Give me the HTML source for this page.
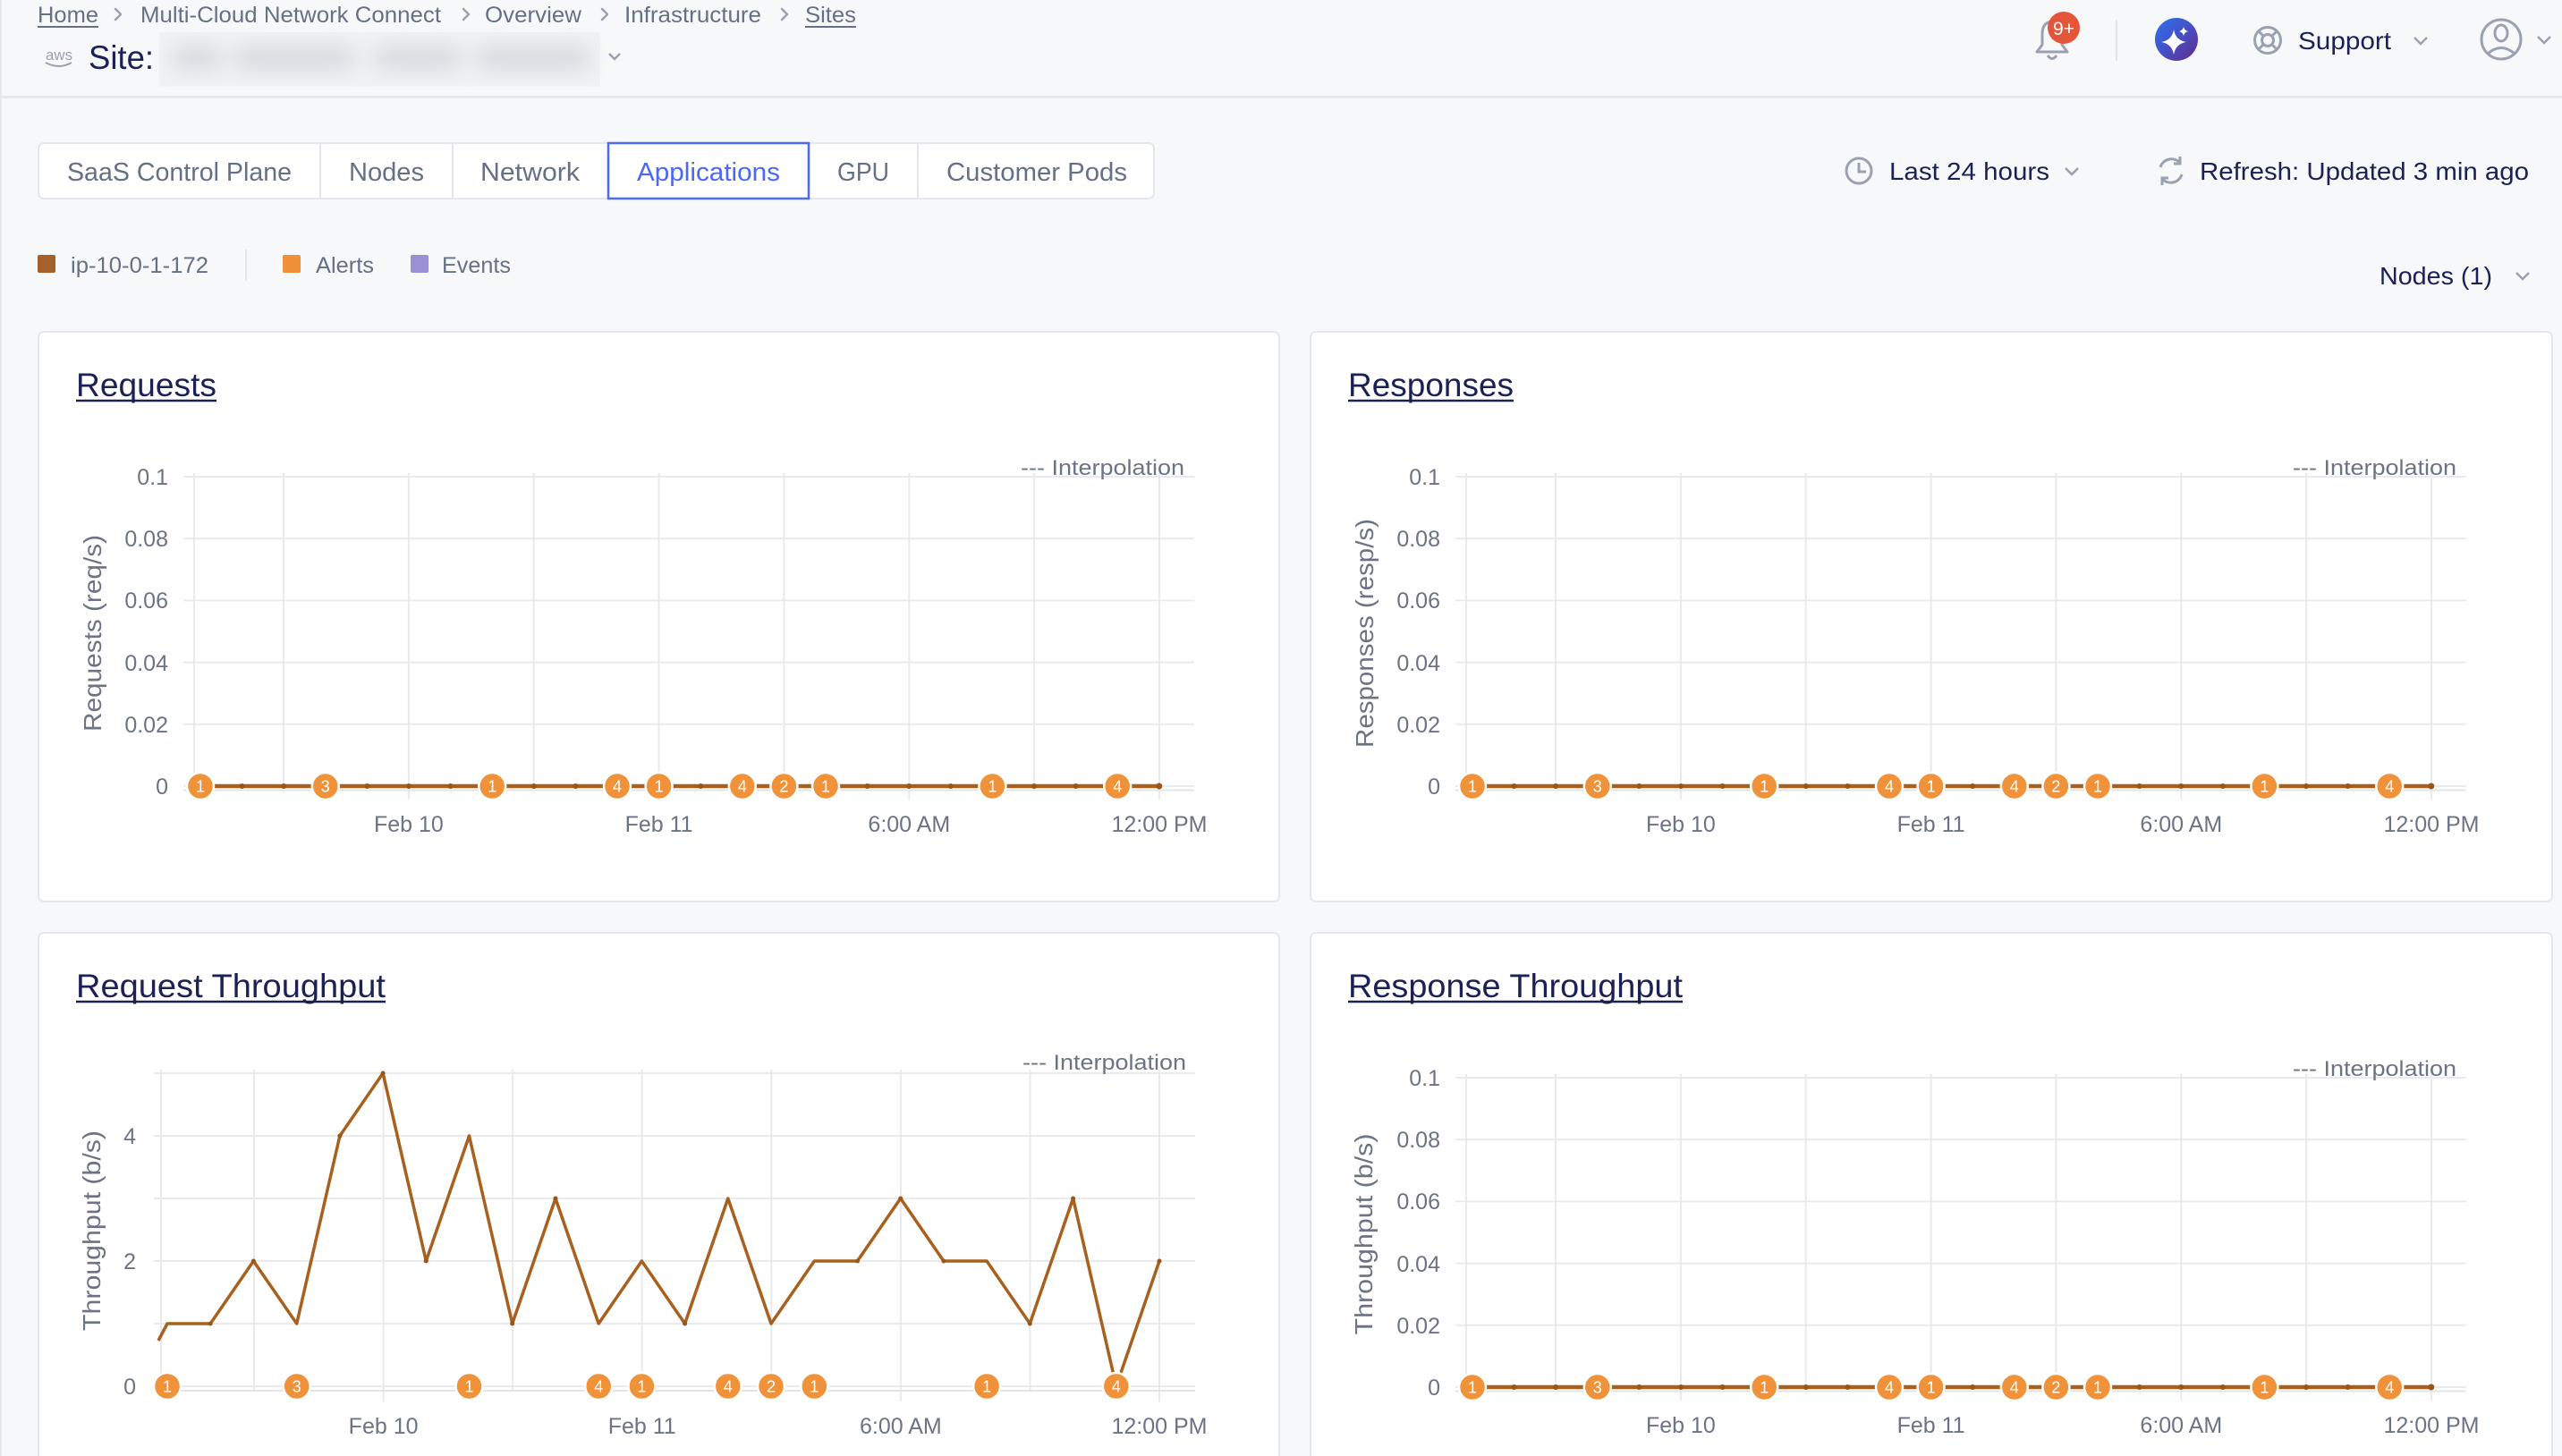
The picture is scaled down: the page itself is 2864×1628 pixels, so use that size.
<!DOCTYPE html>
<html><head><meta charset="utf-8"><style>
html,body{margin:0;padding:0;background:#f7f8fa;}
svg{display:block;font-family:"Liberation Sans",Arial,sans-serif;}
</style></head><body>
<svg width="2864" height="1628" viewBox="0 0 2864 1628" xmlns="http://www.w3.org/2000/svg">
<defs>
<linearGradient id="ai" x1="0" y1="0" x2="1" y2="1"><stop offset="0" stop-color="#2a74f0"/><stop offset="0.55" stop-color="#4a4bc0"/><stop offset="1" stop-color="#5e2a86"/></linearGradient>
<filter id="bl" x="-20%" y="-100%" width="140%" height="300%"><feGaussianBlur stdDeviation="12"/></filter>
</defs>
<rect width="2864" height="1628" fill="#f7f8fa"/>
<rect x="0" y="0" width="2" height="1628" fill="#e6e8ee"/>
<!-- breadcrumb -->
<g font-size="25" fill="#667085">
<text x="42" y="25" textLength="68" lengthAdjust="spacingAndGlyphs">Home</text>
<text x="157" y="25" textLength="336" lengthAdjust="spacingAndGlyphs">Multi-Cloud Network Connect</text>
<text x="542" y="25" textLength="108" lengthAdjust="spacingAndGlyphs">Overview</text>
<text x="698" y="25" textLength="153" lengthAdjust="spacingAndGlyphs">Infrastructure</text>
<text x="900" y="25" textLength="57" lengthAdjust="spacingAndGlyphs">Sites</text>
</g>
<g stroke="#667085" stroke-width="2"><line x1="42" y1="30" x2="110" y2="30"/><line x1="900" y1="30" x2="957" y2="30"/></g>
<g stroke="#9aa1b1" stroke-width="2.5" fill="none" stroke-linecap="round" stroke-linejoin="round">
<polyline points="129,10 135,16 129,22"/><polyline points="518,10 524,16 518,22"/><polyline points="673,10 679,16 673,22"/><polyline points="874,10 880,16 874,22"/>
</g>
<!-- site -->
<text x="51" y="67" font-size="17" fill="#9aa1b1" textLength="30" lengthAdjust="spacingAndGlyphs">aws</text>
<path d="M51,70 Q66,78 80,70" stroke="#9aa1b1" stroke-width="2" fill="none"/>
<text x="99" y="77" font-size="37" fill="#1b2155" textLength="73" lengthAdjust="spacingAndGlyphs">Site:</text>
<rect x="178" y="36" width="493" height="61" fill="#f1f2f5"/>
<g filter="url(#bl)" fill="#d6d9df"><rect x="192" y="52" width="56" height="26" rx="10"/><rect x="262" y="52" width="134" height="26" rx="10"/><rect x="418" y="52" width="98" height="26" rx="10"/><rect x="532" y="52" width="128" height="26" rx="10"/></g>
<polyline points="681,60 687,66 693,60" stroke="#9aa1b1" stroke-width="2.5" fill="none"/>
<!-- top right -->
<path d="M2277,58 L2283,50 L2283,38 Q2283,25 2294,24 Q2305,25 2305,38 L2305,50 L2311,58 Z" fill="none" stroke="#9aa1b1" stroke-width="3" stroke-linejoin="round"/>
<path d="M2289,62 Q2294,69 2299,62" fill="none" stroke="#9aa1b1" stroke-width="3"/>
<circle cx="2307" cy="31" r="18" fill="#e4553a"/>
<text x="2307" y="39" font-size="21" fill="#fff" text-anchor="middle">9+</text>
<line x1="2366" y1="22" x2="2366" y2="68" stroke="#e1e4ea" stroke-width="2"/>
<circle cx="2433" cy="44" r="24" fill="url(#ai)"/>
<path d="M2430,33 Q2432,45 2444,47 Q2432,49 2430,61 Q2428,49 2416,47 Q2428,45 2430,33 Z" fill="#fff"/>
<path d="M2441,30 Q2442,34 2446,35 Q2442,36 2441,40 Q2440,36 2436,35 Q2440,34 2441,30 Z" fill="#fff"/>
<g stroke="#9aa1b1" stroke-width="3" fill="none"><circle cx="2535" cy="45" r="14.5"/><circle cx="2535" cy="45" r="6.5"/>
<line x1="2530" y1="40" x2="2525" y2="35"/><line x1="2540" y1="40" x2="2545" y2="35"/><line x1="2530" y1="50" x2="2525" y2="55"/><line x1="2540" y1="50" x2="2545" y2="55"/></g>
<text x="2569" y="55" font-size="28" fill="#1b2155" textLength="104" lengthAdjust="spacingAndGlyphs">Support</text>
<polyline points="2699,42 2706,49 2713,42" stroke="#9aa1b1" stroke-width="2.5" fill="none"/>
<g stroke="#9aa1b1" stroke-width="3" fill="none"><circle cx="2796" cy="44" r="22"/><ellipse cx="2796" cy="37" rx="7" ry="9"/><path d="M2781,60 Q2796,47 2811,60"/></g>
<polyline points="2837,41 2844,48 2851,41" stroke="#9aa1b1" stroke-width="2.5" fill="none"/>
<rect x="0" y="107" width="2864" height="3" fill="#e6e8ee"/>
<!-- tabs -->
<rect x="43" y="160" width="1247" height="62" rx="6" fill="#fff" stroke="#e3e6ed" stroke-width="2"/>
<g stroke="#e3e6ed" stroke-width="2"><line x1="358" y1="160" x2="358" y2="222"/><line x1="506" y1="160" x2="506" y2="222"/><line x1="1026" y1="160" x2="1026" y2="222"/></g>
<rect x="680" y="160" width="224" height="62" fill="#fff" stroke="#4d6bf5" stroke-width="2.5"/>
<g font-size="28.5" fill="#667085">
<text x="75" y="202" textLength="251" lengthAdjust="spacingAndGlyphs">SaaS Control Plane</text>
<text x="390" y="202" textLength="84" lengthAdjust="spacingAndGlyphs">Nodes</text>
<text x="537" y="202" textLength="111" lengthAdjust="spacingAndGlyphs">Network</text>
<text x="712" y="202" textLength="160" lengthAdjust="spacingAndGlyphs" fill="#4a67f5">Applications</text>
<text x="936" y="202" textLength="58" lengthAdjust="spacingAndGlyphs">GPU</text>
<text x="1058" y="202" textLength="202" lengthAdjust="spacingAndGlyphs">Customer Pods</text>
</g>
<!-- time / refresh -->
<g stroke="#9aa1b1" stroke-width="3" fill="none"><circle cx="2078" cy="191" r="14"/><polyline points="2078,182 2078,192 2086,192"/></g>
<text x="2112" y="201" font-size="28" fill="#1b2155" textLength="179" lengthAdjust="spacingAndGlyphs">Last 24 hours</text>
<polyline points="2309,188 2316,195 2323,188" stroke="#9aa1b1" stroke-width="2.5" fill="none"/>
<g stroke="#9aa1b1" stroke-width="3" fill="none"><path d="M2415,187 A13,13 0 0 1 2437,182"/><polyline points="2437,175 2437,183 2430,183"/><path d="M2439,195 A13,13 0 0 1 2417,200"/><polyline points="2417,207 2417,199 2424,199"/></g>
<text x="2459" y="201" font-size="28" fill="#1b2155" textLength="368" lengthAdjust="spacingAndGlyphs">Refresh: Updated 3 min ago</text>
<!-- legend -->
<rect x="42" y="285" width="20" height="20" rx="2" fill="#a5612a"/>
<text x="79" y="305" font-size="25" fill="#667085" textLength="154" lengthAdjust="spacingAndGlyphs">ip-10-0-1-172</text>
<line x1="275" y1="279" x2="275" y2="314" stroke="#e3e6ed" stroke-width="2"/>
<rect x="316" y="285" width="20" height="20" rx="2" fill="#f0913a"/>
<text x="353" y="305" font-size="25" fill="#667085" textLength="65" lengthAdjust="spacingAndGlyphs">Alerts</text>
<rect x="459" y="285" width="20" height="20" rx="2" fill="#9b8fd6"/>
<text x="494" y="305" font-size="25" fill="#667085" textLength="77" lengthAdjust="spacingAndGlyphs">Events</text>
<text x="2660" y="318" font-size="28" fill="#1b2155" textLength="126" lengthAdjust="spacingAndGlyphs">Nodes (1)</text>
<polyline points="2813,305 2820,312 2827,305" stroke="#9aa1b1" stroke-width="2.5" fill="none"/>
<!-- panels -->
<rect x="43" y="371" width="1387" height="637" rx="6" fill="#fff" stroke="#e4e7ee" stroke-width="2"/>
<rect x="1465" y="371" width="1388" height="637" rx="6" fill="#fff" stroke="#e4e7ee" stroke-width="2"/>
<rect x="43" y="1043" width="1387" height="640" rx="6" fill="#fff" stroke="#e4e7ee" stroke-width="2"/>
<rect x="1465" y="1043" width="1388" height="640" rx="6" fill="#fff" stroke="#e4e7ee" stroke-width="2"/>

<defs>
<g id="grid">
<g stroke="#e9eaef" stroke-width="2">
<line x1="162" y1="162" x2="1292" y2="162"/><line x1="162" y1="231.2" x2="1292" y2="231.2"/><line x1="162" y1="300.4" x2="1292" y2="300.4"/><line x1="162" y1="369.6" x2="1292" y2="369.6"/><line x1="162" y1="438.8" x2="1292" y2="438.8"/><line x1="162" y1="508" x2="1292" y2="508"/>
<line x1="174" y1="158" x2="174" y2="512"/><line x1="274" y1="158" x2="274" y2="512"/><line x1="413.9" y1="158" x2="413.9" y2="523"/><line x1="553.7" y1="158" x2="553.7" y2="512"/><line x1="693.6" y1="158" x2="693.6" y2="523"/><line x1="833.4" y1="158" x2="833.4" y2="512"/><line x1="973.3" y1="158" x2="973.3" y2="523"/><line x1="1113.1" y1="158" x2="1113.1" y2="512"/><line x1="1253" y1="158" x2="1253" y2="523"/>
</g>
<line x1="162" y1="512.5" x2="1292" y2="512.5" stroke="#e2e4ea" stroke-width="2"/>
<g font-size="25" fill="#6b7385" text-anchor="end">
<text x="145" y="171">0.1</text><text x="145" y="240">0.08</text><text x="145" y="309">0.06</text><text x="145" y="379">0.04</text><text x="145" y="448">0.02</text><text x="145" y="517">0</text>
</g>
<g font-size="25" fill="#6b7385" text-anchor="middle">
<text x="413.9" y="559">Feb 10</text><text x="693.6" y="559">Feb 11</text><text x="973.3" y="559">6:00 AM</text><text x="1253" y="559">12:00 PM</text>
</g>
<text x="1098" y="160" font-size="24" fill="#6b7385" textLength="183" lengthAdjust="spacingAndGlyphs">--- Interpolation</text>
<line x1="181" y1="508" x2="1253" y2="508" stroke="#a8601f" stroke-width="4.5"/>
<g fill="#9a5518">
<circle cx="227.6" cy="508" r="3"/><circle cx="274.2" cy="508" r="3"/><circle cx="367.4" cy="508" r="3"/><circle cx="414" cy="508" r="3"/><circle cx="460.6" cy="508" r="3"/><circle cx="553.8" cy="508" r="3"/><circle cx="600.4" cy="508" r="3"/><circle cx="740.2" cy="508" r="3"/><circle cx="926.6" cy="508" r="3"/><circle cx="973.2" cy="508" r="3"/><circle cx="1019.8" cy="508" r="3"/><circle cx="1113" cy="508" r="3"/><circle cx="1159.6" cy="508" r="3"/><circle cx="1252.8" cy="508" r="3.5"/>
</g>
<g fill="#f0923a" stroke="#fff" stroke-width="2.5">
<circle cx="181" cy="508" r="15"/><circle cx="320.8" cy="508" r="15"/><circle cx="507.2" cy="508" r="15"/><circle cx="647" cy="508" r="15"/><circle cx="693.6" cy="508" r="15"/><circle cx="786.8" cy="508" r="15"/><circle cx="833.4" cy="508" r="15"/><circle cx="880" cy="508" r="15"/><circle cx="1066.4" cy="508" r="15"/><circle cx="1206.2" cy="508" r="15"/>
</g>
<g font-size="18" fill="#fff" text-anchor="middle">
<text x="181" y="514.5">1</text><text x="320.8" y="514.5">3</text><text x="507.2" y="514.5">1</text><text x="647" y="514.5">4</text><text x="693.6" y="514.5">1</text><text x="786.8" y="514.5">4</text><text x="833.4" y="514.5">2</text><text x="880" y="514.5">1</text><text x="1066.4" y="514.5">1</text><text x="1206.2" y="514.5">4</text>
</g>
</g>
</defs>

<!-- Panel 1 -->
<g transform="translate(43,371)">
<use href="#grid"/>
<text x="42" y="72" font-size="37" fill="#1b2155" textLength="157" lengthAdjust="spacingAndGlyphs">Requests</text>
<line x1="42" y1="77" x2="199" y2="77" stroke="#1b2155" stroke-width="2.5"/>
<text transform="translate(60,337) rotate(-90)" y="10" font-size="28" fill="#6b7385" text-anchor="middle" textLength="220" lengthAdjust="spacingAndGlyphs">Requests (req/s)</text>
</g>
<!-- Panel 2 -->
<g transform="translate(1465,371)">
<use href="#grid"/>
<text x="42" y="72" font-size="37" fill="#1b2155" textLength="185" lengthAdjust="spacingAndGlyphs">Responses</text>
<line x1="42" y1="77" x2="227" y2="77" stroke="#1b2155" stroke-width="2.5"/>
<text transform="translate(60,337) rotate(-90)" y="10" font-size="28" fill="#6b7385" text-anchor="middle" textLength="256" lengthAdjust="spacingAndGlyphs">Responses (resp/s)</text>
</g>
<!-- Panel 4 -->
<g transform="translate(1465,1043)">
<use href="#grid"/>
<text x="42" y="72" font-size="37" fill="#1b2155" textLength="374" lengthAdjust="spacingAndGlyphs">Response Throughput</text>
<line x1="42" y1="77" x2="416" y2="77" stroke="#1b2155" stroke-width="2.5"/>
<text transform="translate(59,337) rotate(-90)" y="10" font-size="28" fill="#6b7385" text-anchor="middle" textLength="225" lengthAdjust="spacingAndGlyphs">Throughput (b/s)</text>
</g>

<!-- Panel 3: Request Throughput -->
<text x="85" y="1115" font-size="37" fill="#1b2155" textLength="346" lengthAdjust="spacingAndGlyphs">Request Throughput</text>
<line x1="85" y1="1120" x2="431" y2="1120" stroke="#1b2155" stroke-width="2.5"/>
<text transform="translate(102,1376) rotate(-90)" y="10" font-size="28" fill="#6b7385" text-anchor="middle" textLength="224" lengthAdjust="spacingAndGlyphs">Throughput (b/s)</text>
<g stroke="#e9eaef" stroke-width="2">
<line x1="172" y1="1200" x2="1336" y2="1200"/><line x1="172" y1="1270" x2="1336" y2="1270"/><line x1="172" y1="1340" x2="1336" y2="1340"/><line x1="172" y1="1410" x2="1336" y2="1410"/><line x1="172" y1="1480" x2="1336" y2="1480"/><line x1="172" y1="1550" x2="1336" y2="1550"/>
<line x1="180" y1="1196" x2="180" y2="1556"/><line x1="284" y1="1196" x2="284" y2="1556"/><line x1="428.6" y1="1196" x2="428.6" y2="1567"/><line x1="573.1" y1="1196" x2="573.1" y2="1556"/><line x1="717.7" y1="1196" x2="717.7" y2="1567"/><line x1="862.3" y1="1196" x2="862.3" y2="1556"/><line x1="1006.9" y1="1196" x2="1006.9" y2="1567"/><line x1="1151.4" y1="1196" x2="1151.4" y2="1556"/><line x1="1296" y1="1196" x2="1296" y2="1567"/>
</g>
<line x1="172" y1="1555" x2="1336" y2="1555" stroke="#e2e4ea" stroke-width="2"/>
<g font-size="25" fill="#6b7385" text-anchor="end"><text x="152" y="1279">4</text><text x="152" y="1419">2</text><text x="152" y="1559">0</text></g>
<g font-size="25" fill="#6b7385" text-anchor="middle"><text x="428.6" y="1603">Feb 10</text><text x="717.7" y="1603">Feb 11</text><text x="1006.9" y="1603">6:00 AM</text><text x="1296" y="1603">12:00 PM</text></g>
<text x="1143" y="1196" font-size="24" fill="#6b7385" textLength="183" lengthAdjust="spacingAndGlyphs">--- Interpolation</text>
<polyline fill="none" stroke="#a8601f" stroke-width="3.5" stroke-linejoin="round" points="177,1499 187,1480 235.2,1480 283.4,1410 331.7,1480 379.9,1270 428.1,1200 476.3,1410 524.5,1270 572.7,1480 621,1340 669.2,1480 717.4,1410 765.6,1480 813.8,1340 862,1480 910.3,1410 958.5,1410 1006.7,1340 1054.9,1410 1103.1,1410 1151.3,1480 1199.6,1340 1247.8,1550 1296,1410"/>
<g fill="#9a5518"><circle cx="235.2" cy="1480" r="2.5"/><circle cx="283.4" cy="1410" r="2.5"/><circle cx="379.9" cy="1270" r="2.5"/><circle cx="428.1" cy="1200" r="2.5"/><circle cx="476.3" cy="1410" r="2.5"/><circle cx="572.7" cy="1480" r="2.5"/><circle cx="621" cy="1340" r="2.5"/><circle cx="765.6" cy="1480" r="2.5"/><circle cx="958.5" cy="1410" r="2.5"/><circle cx="1006.7" cy="1340" r="2.5"/><circle cx="1054.9" cy="1410" r="2.5"/><circle cx="1151.3" cy="1480" r="2.5"/><circle cx="1199.6" cy="1340" r="2.5"/><circle cx="1296" cy="1410" r="2.5"/></g>
<g fill="#f0923a" stroke="#fff" stroke-width="2.5">
<circle cx="187" cy="1550" r="15"/><circle cx="331.7" cy="1550" r="15"/><circle cx="524.5" cy="1550" r="15"/><circle cx="669.2" cy="1550" r="15"/><circle cx="717.4" cy="1550" r="15"/><circle cx="813.8" cy="1550" r="15"/><circle cx="862" cy="1550" r="15"/><circle cx="910.3" cy="1550" r="15"/><circle cx="1103.1" cy="1550" r="15"/><circle cx="1247.8" cy="1550" r="15"/>
</g>
<g font-size="18" fill="#fff" text-anchor="middle">
<text x="187" y="1556.5">1</text><text x="331.7" y="1556.5">3</text><text x="524.5" y="1556.5">1</text><text x="669.2" y="1556.5">4</text><text x="717.4" y="1556.5">1</text><text x="813.8" y="1556.5">4</text><text x="862" y="1556.5">2</text><text x="910.3" y="1556.5">1</text><text x="1103.1" y="1556.5">1</text><text x="1247.8" y="1556.5">4</text>
</g>
</svg>
</body></html>
